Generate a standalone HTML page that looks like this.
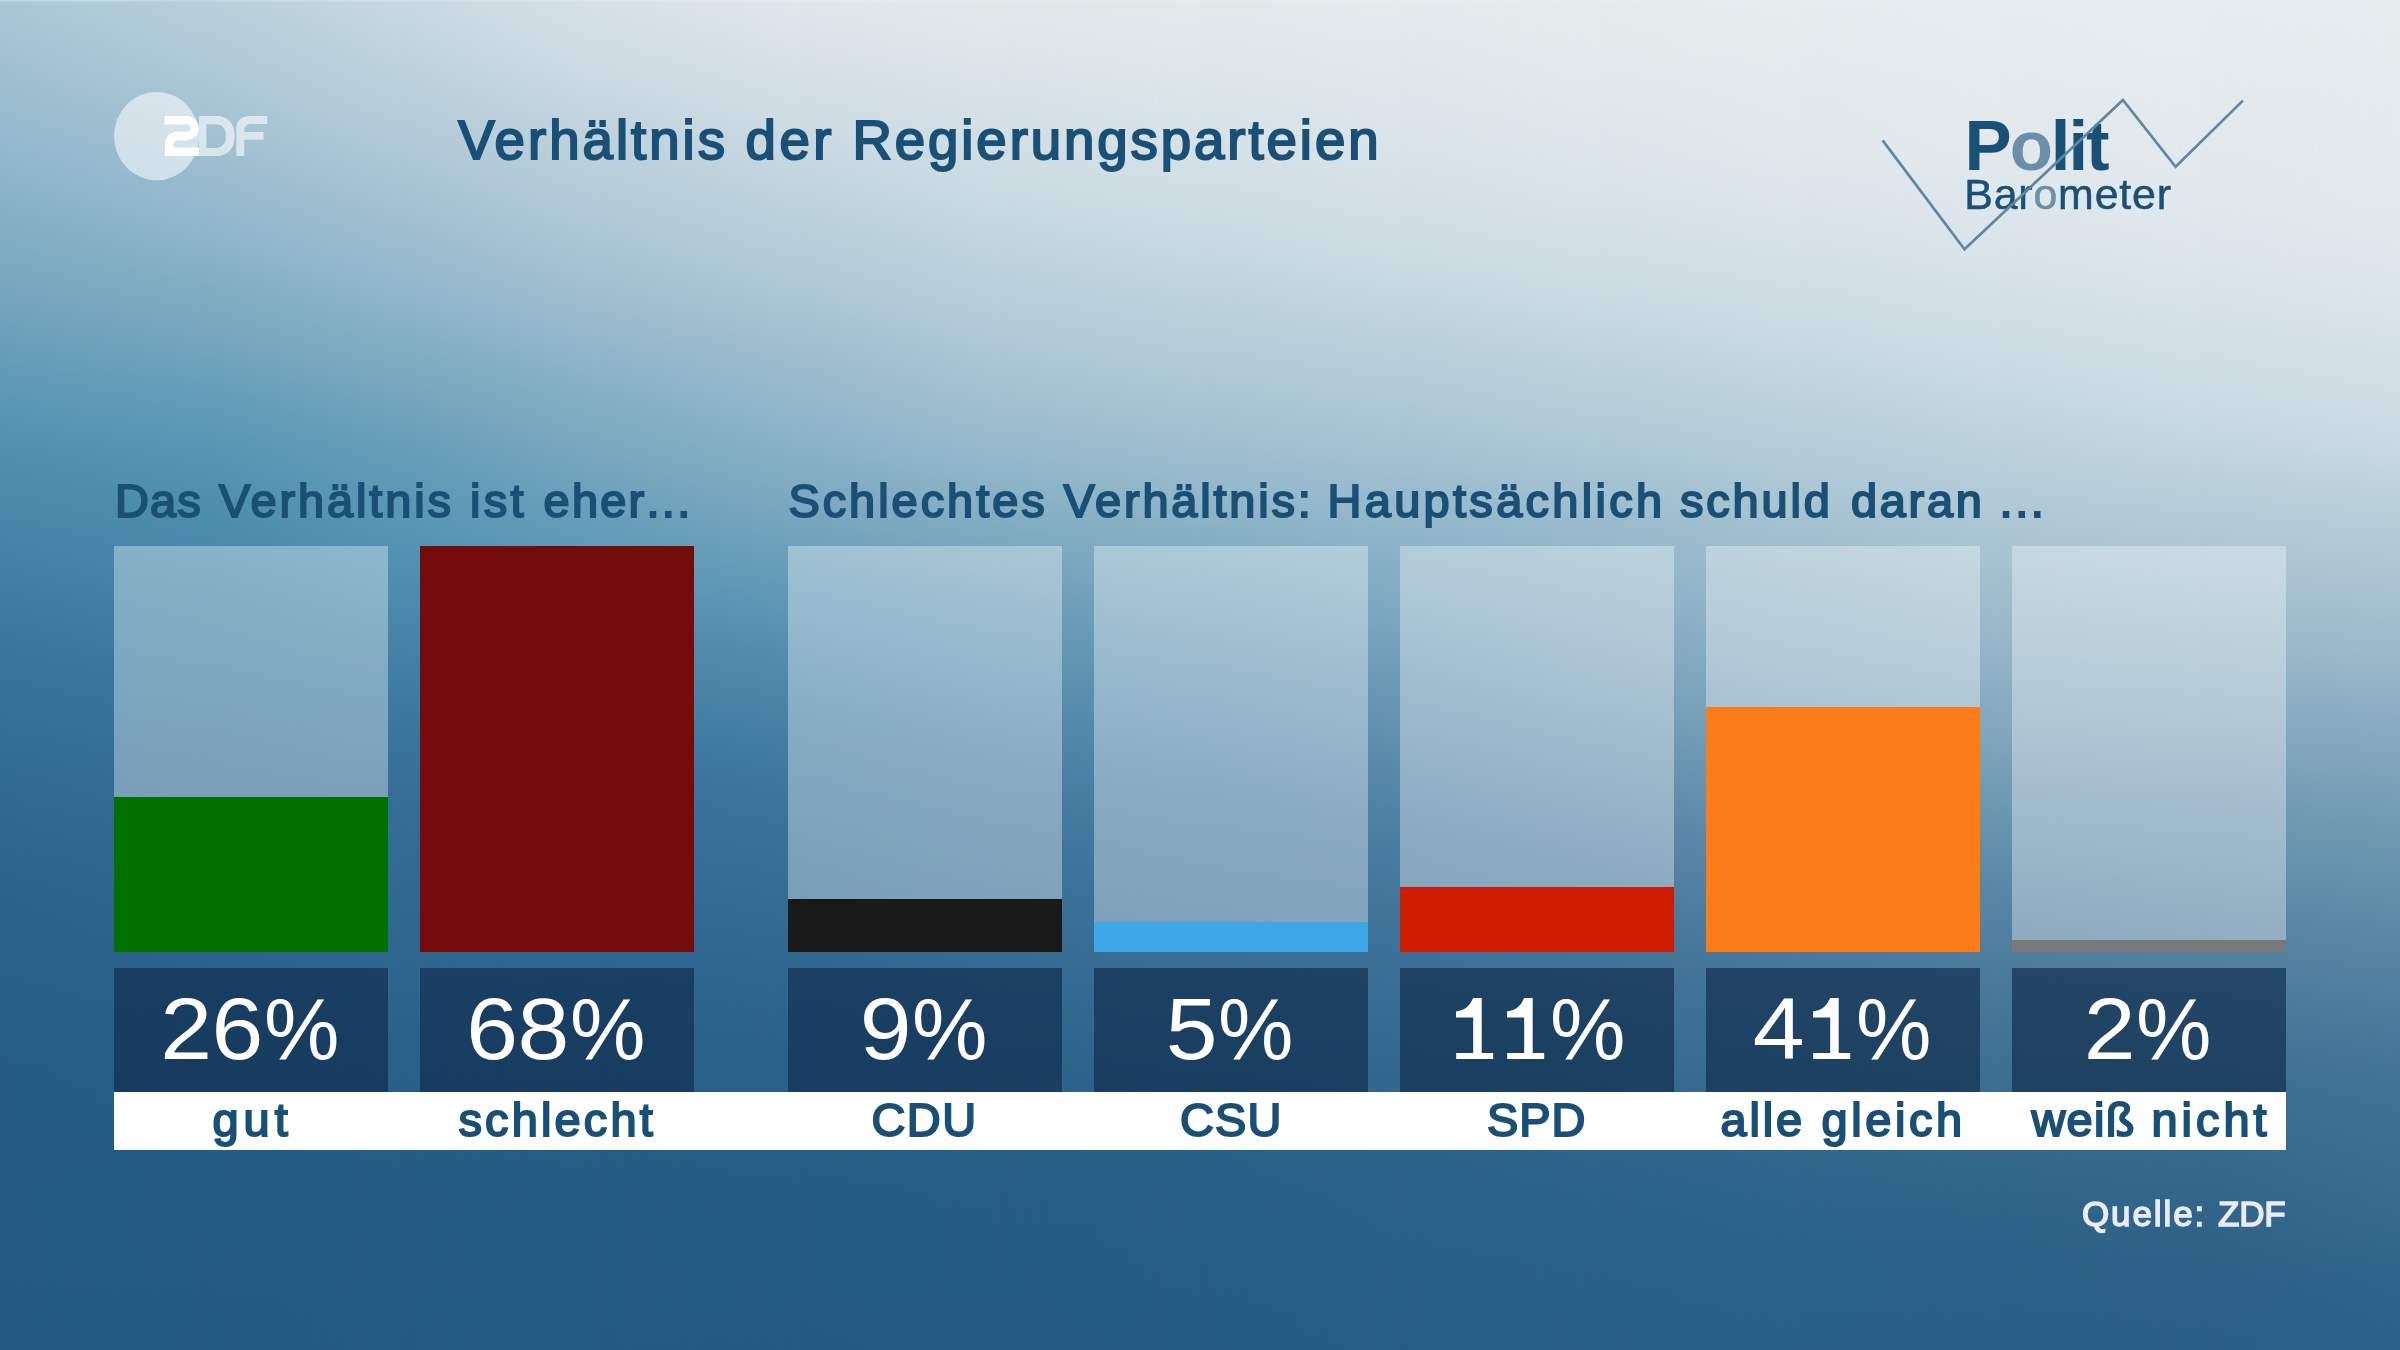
<!DOCTYPE html>
<html lang="de">
<head>
<meta charset="utf-8">
<title>Verhältnis der Regierungsparteien</title>
<style>
  html, body { margin: 0; padding: 0; }
  body {
    width: 2400px; height: 1350px; overflow: hidden; position: relative;
    font-family: "Liberation Sans", sans-serif;
    background: #2a628a;
  }
  #bg { position: absolute; left: 0; top: 0; width: 2400px; height: 1350px; overflow: hidden; }
  #bg i { position: absolute; top: 0; height: 1350px; display: block; }
  #bg i.m { -webkit-mask-image: linear-gradient(90deg, transparent, #000); mask-image: linear-gradient(90deg, transparent, #000); }
  /*BGVARS*/
#bg{--c0:linear-gradient(180deg,#aac8d6 0px,#a3c2d3 50px,#9bbecf 100px,#92b8cc 150px,#89b2c7 200px,#7fabc3 250px,#74a5be 300px,#689eb9 350px,#5b97b4 400px,#5090af 450px,#498aab 500px,#4383a6 550px,#3e7da2 600px,#39779e 650px,#357299 700px,#326d96 750px,#306992 800px,#2e668f 850px,#2b638c 900px,#29618a 950px,#275f88 1000px,#265d86 1050px,#255c85 1100px,#245a83 1150px,#235a83 1200px,#235a83 1275px,#225982 1350px);
--c1:linear-gradient(180deg,#b7cfdb 0px,#b0cad8 50px,#a8c5d4 100px,#9fbfd0 150px,#95b9cc 200px,#8bb3c7 250px,#7eabc2 300px,#71a4bd 350px,#629cb8 400px,#5695b2 450px,#4e8fae 500px,#4889ab 550px,#4382a6 600px,#3e7ca1 650px,#39759d 700px,#367098 750px,#336c95 800px,#306892 850px,#2e668f 900px,#2c648d 950px,#2a618a 1000px,#285f88 1050px,#265e86 1100px,#255c85 1150px,#245b84 1200px,#235a83 1275px,#225982 1350px);
--c2:linear-gradient(180deg,#c8d8e1 0px,#c0d4de 50px,#b8cedb 100px,#aec8d7 150px,#a4c2d2 200px,#9abcce 250px,#8fb5c9 300px,#81adc3 350px,#73a5bd 400px,#669db8 450px,#5b98b5 500px,#5392b2 550px,#4c8bad 600px,#4582a6 650px,#3e7aa0 700px,#39739b 750px,#356e97 800px,#336b94 850px,#306891 900px,#2f6790 950px,#2c648d 1000px,#2a618a 1050px,#285f87 1100px,#265d85 1150px,#255c84 1200px,#245b83 1275px,#235a82 1350px);
--c3:linear-gradient(180deg,#d6e2e8 0px,#d0dde5 50px,#c7d7e1 100px,#bdd1dd 150px,#b3cbd9 200px,#a9c5d4 250px,#9fbecf 300px,#92b6c9 350px,#85afc4 400px,#79a8c0 450px,#6ca1bb 500px,#609ab7 550px,#5591b1 600px,#4c88aa 650px,#437fa4 700px,#3c779e 750px,#377199 800px,#346d95 850px,#316992 900px,#2f6790 950px,#2c648d 1000px,#2a618a 1050px,#275f87 1100px,#265d85 1150px,#255c84 1200px,#245b83 1275px,#235a82 1350px);
--c4:linear-gradient(180deg,#dfe7eb 0px,#d9e3e8 50px,#d1dee5 100px,#c8d8e1 150px,#bfd3de 200px,#b5cdd9 250px,#abc6d4 300px,#9fbecf 350px,#94b8ca 400px,#89b1c6 450px,#7ca9c1 500px,#6da1bb 550px,#6098b5 600px,#558eae 650px,#4b85a8 700px,#427ca1 750px,#3c759c 800px,#377097 850px,#346c94 900px,#316891 950px,#2e658e 1000px,#2b628b 1050px,#286088 1100px,#265e86 1150px,#255c85 1200px,#245b84 1275px,#235982 1350px);
--c5:linear-gradient(180deg,#e2e9eb 0px,#dde6e9 50px,#d7e2e7 100px,#d0dee5 150px,#c8dae2 200px,#c0d4df 250px,#b7cedb 300px,#adc7d6 350px,#a2c1d0 400px,#96b9cb 450px,#88b1c5 500px,#7aa8bf 550px,#6c9eb9 600px,#6095b2 650px,#558cac 700px,#4c83a6 750px,#447ba0 800px,#3e759b 850px,#3a7097 900px,#366c93 950px,#326890 1000px,#2e658d 1050px,#2b6289 1100px,#285f87 1150px,#265d85 1200px,#255c84 1275px,#245a83 1350px);
--c6:linear-gradient(180deg,#e3eaec 0px,#dfe7ea 50px,#dae5e8 100px,#d5e1e7 150px,#cedde4 200px,#c6d8e1 250px,#bdd2dd 300px,#b4ccd8 350px,#a9c5d3 400px,#9ebecf 450px,#91b6c9 500px,#83adc3 550px,#76a4bd 600px,#6a9bb6 650px,#5e91af 700px,#5488a9 750px,#4b80a3 800px,#44799d 850px,#3e7399 900px,#3a6f95 950px,#356b91 1000px,#31678e 1050px,#2d638a 1100px,#296087 1150px,#275e86 1200px,#265d85 1275px,#255c84 1350px);
--c7:linear-gradient(180deg,#e4ebed 0px,#e1e8eb 50px,#dde6ea 100px,#d9e4e8 150px,#d4e0e6 200px,#ccdce3 250px,#c3d6df 300px,#b9cfdb 350px,#afc9d6 400px,#a5c2d2 450px,#98bacd 500px,#8bb2c7 550px,#80aac1 600px,#74a0ba 650px,#6897b3 700px,#5d8dab 750px,#5284a5 800px,#497c9f 850px,#43769b 900px,#3d7197 950px,#396d93 1000px,#34698f 1050px,#30658c 1100px,#2c6389 1150px,#2a6187 1200px,#285f86 1275px,#265d85 1350px);
--c8:linear-gradient(180deg,#e5ebed 0px,#e2eaec 50px,#dfe8eb 100px,#dce6ea 150px,#d8e3e8 200px,#d1dfe5 250px,#c9dae2 300px,#c0d4de 350px,#b6ced9 400px,#acc7d5 450px,#a0bfd0 500px,#95b7ca 550px,#8bb0c5 600px,#81a8bf 650px,#769fb9 700px,#6995b2 750px,#5e8baa 800px,#5382a4 850px,#4a7b9f 900px,#43759a 950px,#3d7095 1000px,#386b91 1050px,#33688e 1100px,#2f658b 1150px,#2c6389 1200px,#296087 1275px,#275e86 1350px);
--c9:linear-gradient(180deg,#e5ecee 0px,#e3ebed 50px,#e1e9ec 100px,#dfe8eb 150px,#dbe5ea 200px,#d5e2e7 250px,#cedde4 300px,#c6d8e1 350px,#bed2dd 400px,#b4ccd9 450px,#a9c5d3 500px,#9fbece 550px,#96b7c9 600px,#8cafc4 650px,#81a7be 700px,#759db7 750px,#6993af 800px,#5d89a8 850px,#5281a2 900px,#4a7a9c 950px,#427497 1000px,#3c6f92 1050px,#366b8f 1100px,#31678c 1150px,#2e658a 1200px,#2a6288 1275px,#285f86 1350px);
--c10:linear-gradient(180deg,#e6ecef 0px,#e4ebee 50px,#e3eaed 100px,#e1e9ec 150px,#dee7eb 200px,#d9e4e9 250px,#d3e1e7 300px,#ccdce4 350px,#c4d7e0 400px,#bcd1dc 450px,#b2cad7 500px,#a8c3d1 550px,#9fbdcc 600px,#95b5c7 650px,#89acc1 700px,#7da3ba 750px,#7099b2 800px,#648eab 850px,#5885a4 900px,#4f7e9e 950px,#477898 1000px,#407293 1050px,#3a6d90 1100px,#34698d 1150px,#30658a 1200px,#2c6187 1275px,#295e85 1350px);
--c11:linear-gradient(180deg,#e6ecef 0px,#e5ebee 50px,#e3eaed 100px,#e2e9ec 150px,#e0e8ec 200px,#dce6ea 250px,#d7e3e9 300px,#d1dfe6 350px,#cadbe3 400px,#c2d5df 450px,#b7cdd9 500px,#adc6d3 550px,#a3bfce 600px,#98b7c8 650px,#8caec2 700px,#80a5bb 750px,#739bb4 800px,#6892ad 850px,#5d89a6 900px,#5381a0 950px,#4a7a9a 1000px,#427394 1050px,#3b6d90 1100px,#37698d 1150px,#33658a 1200px,#2e6187 1275px,#2a5e85 1350px);
--c12:linear-gradient(180deg,#e6ecee 0px,#e4ebed 50px,#e3eaed 100px,#e3e9ed 150px,#e1e9ec 200px,#dee7eb 250px,#dae5e9 300px,#d4e1e7 350px,#cfdde5 400px,#c7d8e1 450px,#bbd0db 500px,#b0c8d5 550px,#a7c1d0 600px,#9bb9ca 650px,#8fb0c4 700px,#83a7bd 750px,#779eb7 800px,#6c96b0 850px,#628eaa 900px,#5886a4 950px,#4e7e9e 1000px,#467798 1050px,#3f7294 1100px,#3b6e91 1150px,#376b8e 1200px,#30658b 1275px,#2b6289 1350px);}
  /*ENDBGVARS*/
  .t { position: absolute; white-space: nowrap; line-height: 1; color: #1a4f76; font-weight: normal; -webkit-text-stroke: 2px #1a4f76; opacity: .999; }
  .ln { left: 0; }
  .ln span { position: absolute; top: 0; }
  #title { top: 114px; font-size: 54.6px; -webkit-text-stroke-width: 2.1px; }
  #sub1, #sub2 { top: 478px; font-size: 46.9px; }
  .lb { top: 1097px; font-size: 46.9px; }
  #src { top: 1196px; font-size: 35px; color: #ebecfb; -webkit-text-stroke: 1.5px #ebecfb; }
  .track { position: absolute; top: 546px; width: 274.6px; height: 406.3px; background: rgba(255,255,255,0.35); }
  .fill { position: absolute; left: 0; right: 0; bottom: 0; }
  .val { position: absolute; top: 967.6px; width: 274.6px; height: 124.6px; background: rgba(15,42,74,0.66); color: #fff;
    font-size: 87px; text-align: center; line-height: 122.4px; }
  .val span { opacity: .999; }
  .val .d { display: inline-block; letter-spacing: -0.45px; transform: translateX(-2.5px) scaleX(1.07); margin: 0 1.7px; }
  .val .d2 { margin: 0 3.4px; }
  .val .p { display: inline-block; margin-left: -3.5px; transform: scaleX(.975); transform-origin: 100% 50%; }
  .val svg { vertical-align: baseline; }
  .val .sr { font-size: 0; line-height: 0; }
  #strip { position: absolute; left: 113.7px; top: 1092.2px; width: 2172.5px; height: 57.8px; background: #fff; }
  #zdf { position: absolute; left: 100px; top: 80px; }
  #pb { position: absolute; left: 1860px; top: 80px; }
  #polit { left: 1964.5px; top: 111px; font-size: 70.7px; letter-spacing: -2.0px; color: #1a4f76; font-weight: bold; -webkit-text-stroke: 0; }
  #baro { left: 1964.3px; top: 173px; font-size: 42.9px; letter-spacing: 0.8px; font-weight: normal; color: #1a4f76; -webkit-text-stroke: 0.5px #1a4f76; }
  .lo { color: #6b8fab; -webkit-text-stroke-color: #6b8fab; }
</style>
</head>
<body>
<div id="bg">
<!--BGHTML-->
<i style="left:0px;width:200px;background:var(--c0)"></i><i class="m" style="left:0px;width:200px;background:var(--c1)"></i>
<i style="left:200px;width:200px;background:var(--c1)"></i><i class="m" style="left:200px;width:200px;background:var(--c2)"></i>
<i style="left:400px;width:200px;background:var(--c2)"></i><i class="m" style="left:400px;width:200px;background:var(--c3)"></i>
<i style="left:600px;width:200px;background:var(--c3)"></i><i class="m" style="left:600px;width:200px;background:var(--c4)"></i>
<i style="left:800px;width:200px;background:var(--c4)"></i><i class="m" style="left:800px;width:200px;background:var(--c5)"></i>
<i style="left:1000px;width:200px;background:var(--c5)"></i><i class="m" style="left:1000px;width:200px;background:var(--c6)"></i>
<i style="left:1200px;width:200px;background:var(--c6)"></i><i class="m" style="left:1200px;width:200px;background:var(--c7)"></i>
<i style="left:1400px;width:200px;background:var(--c7)"></i><i class="m" style="left:1400px;width:200px;background:var(--c8)"></i>
<i style="left:1600px;width:200px;background:var(--c8)"></i><i class="m" style="left:1600px;width:200px;background:var(--c9)"></i>
<i style="left:1800px;width:200px;background:var(--c9)"></i><i class="m" style="left:1800px;width:200px;background:var(--c10)"></i>
<i style="left:2000px;width:200px;background:var(--c10)"></i><i class="m" style="left:2000px;width:200px;background:var(--c11)"></i>
<i style="left:2200px;width:200px;background:var(--c11)"></i><i class="m" style="left:2200px;width:200px;background:var(--c12)"></i>
<!--ENDBGHTML-->
<b style="position:absolute;left:0;top:0;width:2400px;height:2px;background:linear-gradient(180deg,rgba(236,238,242,.42) 0,rgba(236,238,242,.3) 1px,rgba(236,238,242,.08) 2px)"></b>
</div>


<svg id="zdf" width="190" height="110" viewBox="100 80 190 110" role="img" aria-label="ZDF">
  <ellipse cx="156.6" cy="136.1" rx="42.6" ry="44.2" fill="#fff" fill-opacity="0.55"/>
  <path d="M164.6 120.3H186.6a7.9 7.9 0 0 1 0 15.8H177.2a7.9 7.9 0 0 0-7.9 7.9V151.8H199" fill="none" stroke="#fff" stroke-width="8.6" stroke-linejoin="miter"/>
  <path fill="#fff" fill-opacity="0.6" fill-rule="evenodd" d="M199 116H216.5C228.5 116 234.7 124 234.7 136C234.7 148 228.5 156 216.5 156H199ZM206.4 124.2V147.9H215.6C222.6 147.9 226 143.2 226 136C226 128.9 222.6 124.2 215.6 124.2Z"/>
  <path fill="#fff" fill-opacity="0.6" d="M236.3 156V128A12 12 0 0 1 248.3 116H267.2V124.1H250.2A6 6 0 0 0 244.2 130.1V131.9H263.6V139.8H244.2V156Z"/>
</svg>
<div class="t" id="polit">P<span class="lo">o</span>lit</div>
<div class="t" id="baro">Bar<span class="lo">o</span>meter</div>
<svg id="pb" width="420" height="190" viewBox="1860 80 420 190" aria-hidden="true">
  <polyline points="1882.6,140.4 1964.5,249.3 2122.9,100 2175.6,166.8 2242.9,100.6" fill="none" stroke="#5e87a3" stroke-width="2.7" stroke-linejoin="miter" stroke-linecap="butt"/>
</svg>

<div id="strip"></div>
<!--TEXT-->
<div class="t ln" id="title"><span id="t1" style="left:458.20px;letter-spacing:3.01px">Verhältnis</span> <span id="t2" style="left:745.60px;letter-spacing:3.44px">der</span> <span id="t3" style="left:852.40px;letter-spacing:2.92px">Regierungsparteien</span></div>
<div class="t ln" id="sub1"><span id="a1" style="left:115.00px;letter-spacing:1.20px">Das</span> <span id="a2" style="left:219.00px;letter-spacing:2.89px">Verhältnis</span> <span id="a3" style="left:470.00px;letter-spacing:3.36px">ist</span> <span id="a4" style="left:543.60px;letter-spacing:2.23px">eher</span> <span id="a5" style="left:646.40px;letter-spacing:2.41px">...</span></div>
<div class="t ln" id="sub2"><span id="b1" style="left:788.40px;letter-spacing:2.99px">Schlechtes</span> <span id="b2" style="left:1063.60px;letter-spacing:2.82px">Verhältnis:</span> <span id="b3" style="left:1327.60px;letter-spacing:3.33px">Hauptsächlich</span> <span id="b4" style="left:1680.00px;letter-spacing:2.86px">schuld</span> <span id="b5" style="left:1851.00px;letter-spacing:2.73px">daran</span> <span id="b6" style="left:1999.60px;letter-spacing:2.59px">...</span></div>
<div class="t ln lb" id="l1"><span id="l1a" style="left:212.40px;letter-spacing:5.15px">gut</span></div>
<div class="t ln lb" id="l2"><span id="l2a" style="left:458.40px;letter-spacing:3.19px">schlecht</span></div>
<div class="t ln lb" id="l3"><span id="l3a" style="left:871.40px;letter-spacing:1.56px">CDU</span></div>
<div class="t ln lb" id="l4"><span id="l4a" style="left:1180.00px;letter-spacing:1.15px">CSU</span></div>
<div class="t ln lb" id="l5"><span id="l5a" style="left:1487.00px;letter-spacing:0.93px">SPD</span></div>
<div class="t ln lb" id="l6"><span id="l6a" style="left:1720.60px;letter-spacing:2.80px">alle</span> <span id="l6b" style="left:1821.60px;letter-spacing:3.58px">gleich</span></div>
<div class="t ln lb" id="l7"><span id="l7a" style="left:2031.40px;letter-spacing:1.30px">weiß</span> <span id="l7b" style="left:2151.40px;letter-spacing:4.03px">nicht</span></div>
<div class="t ln" id="src"><span id="s1" style="left:2082.00px;letter-spacing:1.90px">Quelle:</span> <span id="s2" style="left:2218.00px;letter-spacing:-0.20px">ZDF</span></div>
<!--ENDTEXT-->

<div class="track" style="left:113.7px"><div class="fill" style="height:155.3px;background:#007000"></div></div>
<div class="track" style="left:419.7px"><div class="fill" style="height:406.3px;background:#740c0c"></div></div>
<div class="track" style="left:787.8px"><div class="fill" style="height:53.8px;background:#1a1a1a"></div></div>
<div class="track" style="left:1093.8px"><div class="fill" style="height:29.9px;background:#3da7e8"></div></div>
<div class="track" style="left:1399.8px"><div class="fill" style="height:65.7px;background:#cd1c00"></div></div>
<div class="track" style="left:1705.8px"><div class="fill" style="height:245.0px;background:#fa7d19"></div></div>
<div class="track" style="left:2011.7px"><div class="fill" style="height:11.9px;background:#77777c"></div></div>

<div class="val" style="left:113.7px"><span class="d d2">26</span><span class="p">%</span></div>
<div class="val" style="left:419.7px"><span class="d d2">68</span><span class="p">%</span></div>
<div class="val" style="left:787.8px"><span class="d">9</span><span class="p">%</span></div>
<div class="val" style="left:1093.8px"><span class="d">5</span><span class="p">%</span></div>
<div class="val" style="left:1399.8px"><span class="sr">1</span><svg width="51.3" height="61" viewBox="0 0 51.3 61"><path fill="#fff" d="M7.2 55H24.2V19.5H7V13.5Q19 12.5 24.2 0H32.7V55H44.2V61H7.2Z"/></svg><span class="sr">1</span><svg width="51.3" height="61" viewBox="0 0 51.3 61"><path fill="#fff" d="M7.2 55H24.2V19.5H7V13.5Q19 12.5 24.2 0H32.7V55H44.2V61H7.2Z"/></svg><span class="p">%</span></div>
<div class="val" style="left:1705.8px"><span class="d">4</span><span class="sr">1</span><svg width="51.3" height="61" viewBox="0 0 51.3 61"><path fill="#fff" d="M7.2 55H24.2V19.5H7V13.5Q19 12.5 24.2 0H32.7V55H44.2V61H7.2Z"/></svg><span class="p">%</span></div>
<div class="val" style="left:2011.7px"><span class="d">2</span><span class="p">%</span></div>

</body>
</html>
